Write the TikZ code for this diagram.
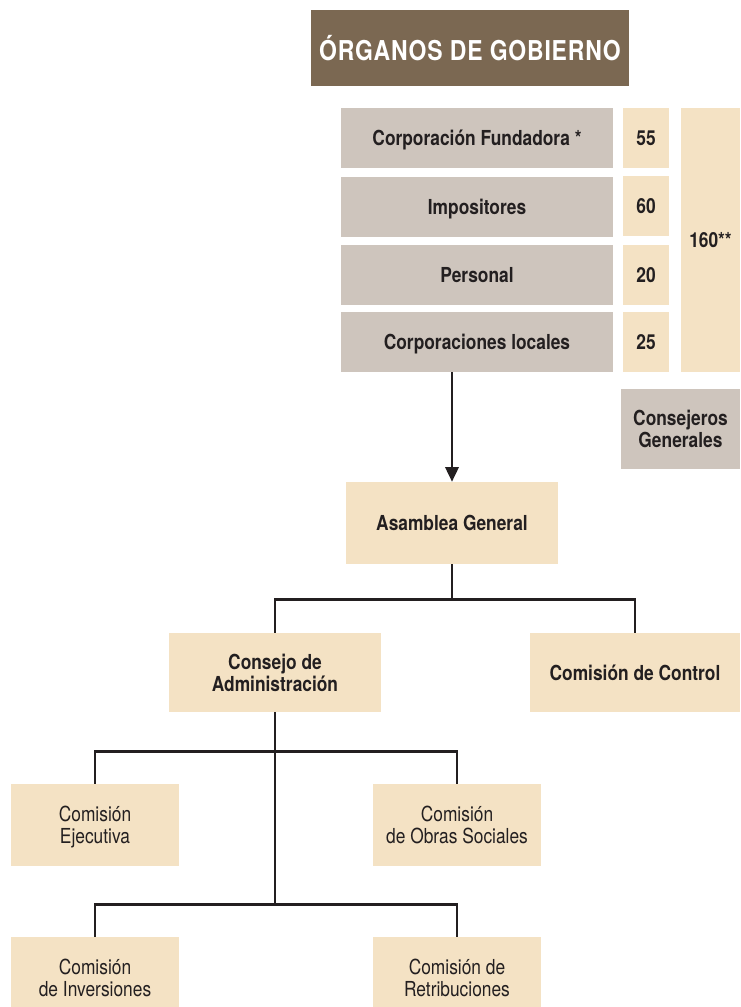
\documentclass[tikz,border=0pt]{standalone}
\usepackage{fontspec}
\setmainfont{TeX Gyre Heros}[FakeStretch=0.84]
\usetikzlibrary{arrows.meta}
\definecolor{titlebrown}{HTML}{7B6852}
\definecolor{boxgray}{HTML}{CEC5BD}
\definecolor{boxbeige}{HTML}{F4E2C4}
\definecolor{ink}{HTML}{231F20}
\tikzset{
  base/.style={inner sep=2pt, align=center, text=ink, text depth=0pt, font=\fontsize{15.5}{16.5}\selectfont\bfseries},
  gbox/.style={base, fill=boxgray},
  bbox/.style={base, fill=boxbeige},
  rbox/.style={base, fill=boxbeige, font=\fontsize{15.5}{16.5}\selectfont},
  conn/.style={draw=ink, line width=1.9pt},
  arr/.style={conn, -{Triangle[length=11pt,width=10pt]}},
}
\begin{document}
\begin{tikzpicture}[x=0.75pt,y=-0.75pt]
\useasboundingbox (0,0) rectangle (740,1007);
% title
\node[fill=titlebrown, text=white, minimum width=238.5pt, minimum height=57pt, inner sep=0pt,
  font=\fontsize{20.5}{24}\selectfont\bfseries\addfontfeature{LetterSpace=3}] (title) at (470,48) {ÓRGANOS DE GOBIERNO};
% rows
\node[gbox, minimum width=204pt, minimum height=45pt] (cf) at (477,138) {Corporación Fundadora *};
\node[gbox, minimum width=204pt, minimum height=45pt] (imp) at (477,207) {Impositores};
\node[gbox, minimum width=204pt, minimum height=45pt] (per) at (477,275) {Personal};
\node[gbox, minimum width=204pt, minimum height=45pt] (cl) at (477,342) {Corporaciones locales};
% numbers
\node[bbox, minimum width=34.5pt, minimum height=45pt] (n1) at (646,138) {55};
\node[bbox, minimum width=34.5pt, minimum height=45pt] (n2) at (646,206) {60};
\node[bbox, minimum width=34.5pt, minimum height=45pt] (n3) at (646,275) {20};
\node[bbox, minimum width=34.5pt, minimum height=45pt] (n4) at (646,342) {25};
\node[bbox, minimum width=44.25pt, minimum height=198pt] (tot) at (710.5,240) {160**};
\node[gbox, minimum width=89.25pt, minimum height=60pt] (cg) at (680.5,429) {Consejeros\\Generales};
% hierarchy
\node[bbox, minimum width=159pt, minimum height=61.5pt] (ag) at (452,523) {Asamblea General};
\node[bbox, minimum width=159pt, minimum height=59.25pt] (con) at (275,672.5) {Consejo de\\Administración};
\node[bbox, minimum width=157.5pt, minimum height=59.25pt] (cc) at (635,672.5) {Comisión de Control};
\node[rbox, minimum width=126pt, minimum height=61.5pt] (eje) at (95,825) {Comisión\\Ejecutiva};
\node[rbox, minimum width=126pt, minimum height=61.5pt] (obr) at (457,825) {Comisión\\de Obras Sociales};
\node[rbox, minimum width=126pt, minimum height=61.5pt] (inv) at (95,978) {Comisión\\de Inversiones};
\node[rbox, minimum width=126pt, minimum height=61.5pt] (ret) at (457,978) {Comisión de\\Retribuciones};
% connectors
\draw[arr] (cl.south -| ag.north) -- (ag.north);
\draw[conn] (ag.south) -- ++(0,36);
\draw[conn] (con.north) -- ++(0,-33) -| (cc.north);
\coordinate (b2) at (275,905);
\draw[conn] (con.south) -- (b2);
\draw[conn] (eje.north) -- ++(0,-32) -| (obr.north);
\draw[conn] (inv.north) -- ++(0,-32) -| (ret.north);
\end{tikzpicture}
\end{document}
